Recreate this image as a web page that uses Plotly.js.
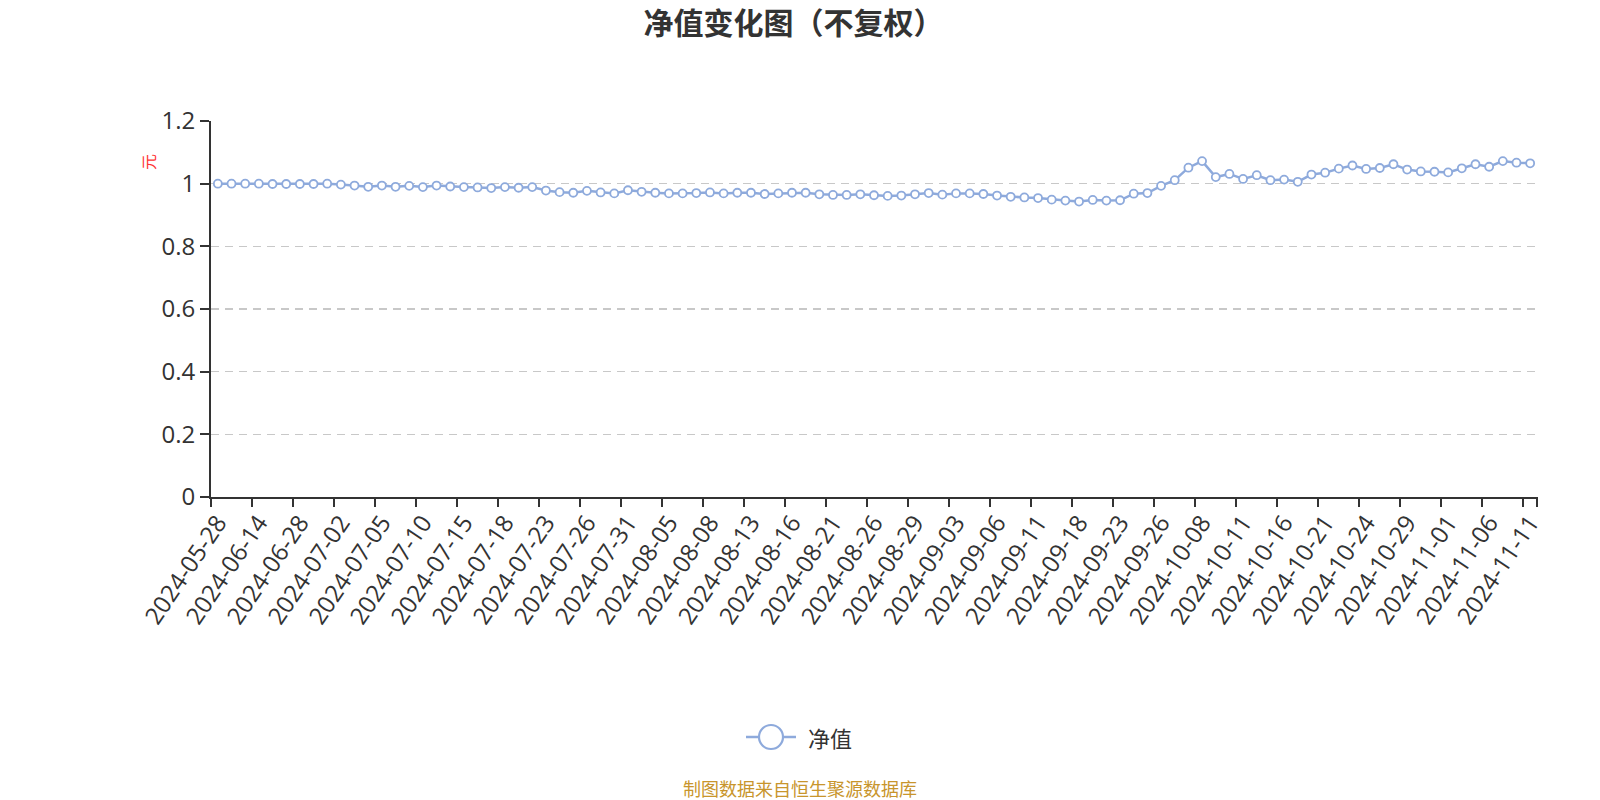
<!DOCTYPE html>
<html>
<head>
<meta charset="utf-8">
<script src="https://cdn.plot.ly/plotly-3.0.1.min.js"></script>
<style>html,body{margin:0;padding:0;background:#fff;}#chart{width:1600px;height:800px;}</style>
</head>
<body>
<div id="chart"></div>
<script>
const dates = [
 "2024-05-28","2024-05-31","2024-06-07","2024-06-14","2024-06-21","2024-06-27","2024-06-28","2024-06-30","2024-07-01",
 "2024-07-02","2024-07-03","2024-07-04","2024-07-05","2024-07-08","2024-07-09","2024-07-10","2024-07-11","2024-07-12",
 "2024-07-15","2024-07-16","2024-07-17","2024-07-18","2024-07-19","2024-07-22","2024-07-23","2024-07-24","2024-07-25",
 "2024-07-26","2024-07-29","2024-07-30","2024-07-31","2024-08-01","2024-08-02","2024-08-05","2024-08-06","2024-08-07",
 "2024-08-08","2024-08-09","2024-08-12","2024-08-13","2024-08-14","2024-08-15","2024-08-16","2024-08-19","2024-08-20",
 "2024-08-21","2024-08-22","2024-08-23","2024-08-26","2024-08-27","2024-08-28","2024-08-29","2024-08-30","2024-09-02",
 "2024-09-03","2024-09-04","2024-09-05","2024-09-06","2024-09-09","2024-09-10","2024-09-11","2024-09-12","2024-09-13",
 "2024-09-18","2024-09-19","2024-09-20","2024-09-23","2024-09-24","2024-09-25","2024-09-26","2024-09-27","2024-09-30",
 "2024-10-08","2024-10-09","2024-10-10","2024-10-11","2024-10-14","2024-10-15","2024-10-16","2024-10-17","2024-10-18",
 "2024-10-21","2024-10-22","2024-10-23","2024-10-24","2024-10-25","2024-10-28","2024-10-29","2024-10-30","2024-10-31",
 "2024-11-01","2024-11-04","2024-11-05","2024-11-06","2024-11-07","2024-11-08","2024-11-11"
];
const navValues = [
 1.000,1.000,1.000,1.000,0.999,0.999,0.999,0.999,1.000,
 0.997,0.994,0.990,0.994,0.990,0.993,0.989,0.994,0.991,
 0.989,0.988,0.986,0.989,0.987,0.989,0.978,0.973,0.971,
 0.977,0.972,0.969,0.979,0.974,0.971,0.969,0.969,0.970,
 0.972,0.969,0.971,0.971,0.967,0.969,0.971,0.971,0.966,
 0.964,0.964,0.966,0.963,0.961,0.962,0.966,0.970,0.965,
 0.969,0.969,0.967,0.962,0.958,0.956,0.954,0.949,0.946,
 0.943,0.948,0.946,0.947,0.968,0.970,0.993,1.011,1.051,
 1.072,1.021,1.031,1.015,1.027,1.011,1.013,1.006,1.029,
 1.035,1.048,1.058,1.047,1.050,1.062,1.045,1.039,1.038,
 1.036,1.049,1.062,1.054,1.072,1.067,1.065
];
const tickLabels = dates.filter((d, i) => i % 3 === 0);
const seriesName = "净值";
const titleText = "净值变化图（不复权）";
const unitText = "元";
const sourceText = "制图数据来自恒生聚源数据库";

const lineColor = "#8eaadc";
const FONT = "'Open Sans', 'Noto Sans CJK SC', sans-serif";
const CJK = "'Noto Sans CJK SC', 'Open Sans', sans-serif";

// plot area in pixels
const L = 211, R = 1537, T = 121, B = 497;
const px = x => (x - L) / (R - L);
const py = y => (B - y) / (B - T);

const trace = {
  x: dates, y: navValues, type: "scatter", mode: "lines+markers", name: seriesName,
  line: {color: lineColor, width: 2.5},
  marker: {symbol: "circle", size: 8, color: "#ffffff", line: {color: lineColor, width: 1.8}},
  showlegend: false, cliponaxis: false
};

const layout = {
  width: 1600, height: 800,
  margin: {l: L, r: 1600 - R, t: T, b: 800 - B},
  paper_bgcolor: "#fff", plot_bgcolor: "#fff",
  font: {family: FONT, color: "#333"},
  title: {text: "<b>" + titleText + "</b>", font: {family: CJK, size: 30, color: "#333"},
          xref: "container", x: 0.496, xanchor: "center", yref: "container", y: 1 - 23/800, yanchor: "middle"},
  xaxis: {
    type: "category", range: [-0.5, dates.length - 0.5],
    tickmode: "array", tickvals: tickLabels, ticktext: tickLabels,
    tickson: "boundaries", ticks: "outside", ticklen: 8, tickwidth: 2, tickcolor: "#333",
    tickangle: -56, tickfont: {size: 24, color: "#333", family: FONT},
    showline: true, linecolor: "#333", linewidth: 2, showgrid: false, zeroline: false
  },
  yaxis: {
    range: [0, 1.2], dtick: 0.2, tick0: 0,
    ticks: "outside", ticklen: 9, tickwidth: 2, tickcolor: "#333",
    tickfont: {size: 24, color: "#333", family: FONT},
    showline: true, linecolor: "#333", linewidth: 2,
    showgrid: true, gridcolor: "#c8c8c8", gridwidth: 1.5, griddash: "8px,6px", zeroline: false
  },
  shapes: [
    {type: "line", xref: "paper", yref: "paper", x0: px(746), x1: px(796), y0: py(737), y1: py(737),
     line: {color: lineColor, width: 2.5}},
    {type: "circle", xref: "paper", yref: "paper", x0: px(759), x1: px(783), y0: py(749), y1: py(725),
     fillcolor: "#fff", line: {color: lineColor, width: 2.2}},
    {type: "line", xref: "paper", yref: "paper", x0: 1, x1: 1, y0: 0, y1: py(B + 8),
     line: {color: "#333", width: 2}}
  ],
  annotations: [
    {text: unitText, xref: "paper", yref: "paper", x: px(148), y: py(162), showarrow: false,
     textangle: -90, font: {family: CJK, size: 16, color: "#ff3333"}, xanchor: "center", yanchor: "middle"},
    {text: seriesName, xref: "paper", yref: "paper", x: px(806), y: py(737), showarrow: false,
     xanchor: "left", yanchor: "middle", font: {family: CJK, size: 22, color: "#333"}},
    {text: sourceText, xref: "paper", yref: "paper", x: px(800), y: py(788), showarrow: false,
     xanchor: "center", yanchor: "middle", font: {family: CJK, size: 18, color: "#c8952c"}}
  ]
};

Plotly.newPlot("chart", [trace], layout, {displayModeBar: false, staticPlot: true});
</script>
</body>
</html>
